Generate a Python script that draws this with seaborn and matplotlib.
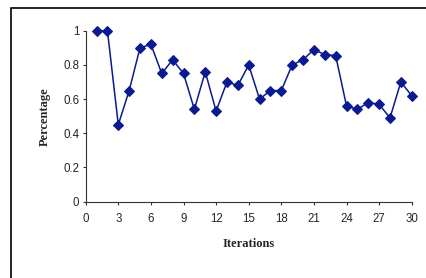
import matplotlib
matplotlib.use('Agg')
import numpy as np
import pandas as pd
import seaborn as sns
from matplotlib import pyplot as plt
from matplotlib.patches import Rectangle

iterations = list(range(1, 31))
percentage = [1.00, 1.00, 0.45, 0.65, 0.90, 0.92, 0.75, 0.83, 0.75, 0.54,
              0.76, 0.53, 0.70, 0.68, 0.80, 0.60, 0.65, 0.65, 0.80, 0.83,
              0.89, 0.86, 0.855, 0.56, 0.54, 0.58, 0.57, 0.49, 0.70, 0.62]
x_ticks = list(range(0, 31, 3))
y_ticks = [0, 0.2, 0.4, 0.6, 0.8, 1]
y_tick_labels = ['0', '0.2', '0.4', '0.6', '0.8', '1']

df = pd.DataFrame({'Iterations': iterations, 'Percentage': percentage})

sns.set_style('white')
plt.rcParams['font.family'] = ['Liberation Sans', 'DejaVu Sans']

fig = plt.figure(figsize=(4.27, 2.78), dpi=100)
ax = fig.add_axes([0.2007, 0.2745, 0.7635, 0.615])

line_color = '#0a1a90'
sns.lineplot(data=df, x='Iterations', y='Percentage', color=line_color,
             marker='D', markersize=5, markeredgecolor=line_color,
             linewidth=1.1, ax=ax, clip_on=False)

ax.set_xlim(0, 30)
ax.set_ylim(0, 1)
ax.set_xticks(x_ticks)
ax.set_yticks(y_ticks)
ax.set_yticklabels(y_tick_labels)
ax.tick_params(axis='both', direction='out', length=2.5, width=0.8,
               color='#333333', labelsize=8.3, left=True, bottom=True)
ax.tick_params(axis='x', pad=6)
ax.tick_params(axis='y', pad=2)

sns.despine(ax=ax)
for side in ['left', 'bottom']:
    ax.spines[side].set_color('#333333')
    ax.spines[side].set_linewidth(0.8)

label_font = dict(family=['Liberation Serif', 'DejaVu Serif'], weight='bold', size=9)
ax.set_xlabel('Iterations', fontdict=label_font, labelpad=9)
ax.set_ylabel('Percentage', fontdict=label_font, labelpad=9)

# outer chart-area frame
fig.patches.append(Rectangle((11.5 / 427, -0.1), 1.2, 1 - 7.5 / 278 + 0.1,
                             transform=fig.transFigure, fill=False,
                             edgecolor='black', linewidth=1.2))

fig.savefig('out.png', dpi=100)
